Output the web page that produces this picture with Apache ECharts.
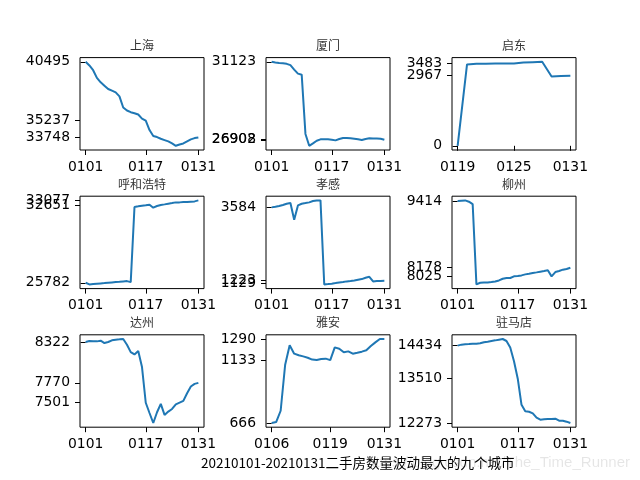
<!DOCTYPE html>
<html><head><meta charset="utf-8">
<script src="https://cdn.jsdelivr.net/npm/echarts@6/dist/echarts.min.js"></script>
<style>html,body{margin:0;padding:0;background:#fff}#c{width:640px;height:480px}</style>
</head><body><div id="c"></div>
<script>
const datesJan = ['0101','0102','0103','0104','0105','0106','0107','0108','0109','0110','0111','0112','0113','0114','0115','0116','0117','0118','0119','0120','0121','0122','0123','0124','0125','0126','0127','0128','0129','0130','0131'];
const datesQidong = ['0119','0120','0121','0122','0123','0124','0125','0126','0127','0128','0129','0130','0131'];
const datesYaan = ['0106','0107','0108','0109','0110','0111','0112','0113','0114','0115','0116','0117','0118','0119','0120','0121','0122','0123','0124','0125','0126','0127','0128','0129','0130','0131'];

const cities = ['上海','厦门','启东','呼和浩特','孝感','柳州','达州','雅安','驻马店'];

const shanghai = [40495,40165,39745,39056,38666,38366,38066,37916,37766,37406,36417,36147,35997,35907,35787,35427,35237,34408,33868,33778,33628,33508,33388,33208,32998,33118,33208,33388,33568,33688,33748];
const xiamen = [31123,31090,31060,31040,31013,30940,30702,30482,30427,27220,26578,26707,26853,26927,26927,26927,26908,26871,26945,27000,27000,26990,26963,26930,26890,26950,26982,26975,26970,26960,26902];
const qidong = [0,3441,3469,3469,3476,3478,3483,3525,3539,3553,2930,2950,2967];
const hohhot = [25782,25636,25665,25694,25723,25752,25782,25811,25840,25869,25899,25928,25840,32492,32550,32609,32651,32697,32433,32580,32668,32726,32785,32843,32902,32902,32931,32931,32960,32990,33077];
const xiaogan = [3584,3605,3627,3659,3702,3723,3187,3648,3702,3723,3745,3788,3809,3809,1105,1116,1129,1148,1169,1180,1202,1212,1233,1255,1276,1319,1351,1202,1212,1218,1223];
const liuzhou = [9414,9420,9426,9402,9358,7868,7899,7905,7905,7911,7923,7942,7973,7986,7986,8017,8025,8035,8054,8066,8079,8091,8104,8116,8129,8017,8097,8116,8141,8153,8178];
const dazhou = [8322,8336,8331,8331,8340,8308,8322,8345,8354,8358,8363,8286,8186,8155,8200,7983,7501,7362,7227,7372,7485,7336,7381,7417,7480,7503,7526,7630,7720,7756,7770];
const yaan = [666,673,757,1099,1243,1181,1169,1161,1151,1137,1134,1141,1144,1133,1228,1218,1191,1198,1181,1188,1196,1206,1238,1265,1290,1290];
const zhumadian = [14434,14462,14471,14480,14490,14490,14499,14527,14545,14564,14582,14601,14620,14564,14380,14000,13510,12780,12600,12588,12542,12421,12365,12375,12384,12384,12393,12338,12338,12310,12273];

// y tick labels: value at first, middle and last shown date
const yTicks = [
  [40495,35237,33748],
  [31123,26908,26902],
  [0,3483,2967],
  [25782,32651,33077],
  [3584,1129,1223],
  [9414,8025,8178],
  [8322,7501,7770],
  [666,1133,1290],
  [14434,13510,12273]
];
// x tick positions (indices into the date lists)
const xTickIdx = [[0,16,30],[0,16,30],[0,6,12],[0,16,30],[0,16,30],[0,16,30],[0,16,30],[0,13,25],[0,16,30]];
const xLabels = [datesJan,datesJan,datesQidong,datesJan,datesJan,datesJan,datesJan,datesYaan,datesJan];
const seriesVals = [shanghai,xiamen,qidong,hohhot,xiaogan,liuzhou,dazhou,yaan,zhumadian];

const title = '20210101-20210131二手房数量波动最大的九个城市';

const colLeft = [80, 266, 452];
const rowTop = [57.6, 196.2, 334.8];
const W = 124, H = 92.4;

const grids = [], xAxes = [], yAxes = [], series = [], graphics = [];
const labelFont = {color: '#000', fontSize: 13.9, fontFamily: 'DejaVu Sans'};
for (let k = 0; k < 9; k++) {
  const r = Math.floor(k / 3), c = k % 3;
  const vals = seriesVals[k], labels = xLabels[k];
  const n = vals.length;
  const vmin = Math.min(...vals), vmax = Math.max(...vals), rg = vmax - vmin;
  grids.push({left: colLeft[c], top: rowTop[r], width: W, height: H, show: true,
    borderColor: '#000', borderWidth: 1, backgroundColor: 'transparent',
    containLabel: false, outerBoundsMode: 'none'});
  xAxes.push({type: 'value', gridIndex: k, min: -0.05 * (n - 1), max: (n - 1) * 1.05,
    splitLine: {show: false}, axisLine: {show: false},
    axisTick: {show: true, length: 5, lineStyle: {color: '#000', width: 1}, customValues: xTickIdx[k]},
    axisLabel: Object.assign({show: true, customValues: xTickIdx[k], margin: 10, hideOverlap: false,
      formatter: v => labels[Math.round(v)]}, labelFont)});
  const ymin = vmin - 0.05 * rg, ymax = vmax + 0.05 * rg;
  // one y axis per tick so overlapping labels are all drawn (as in the reference)
  yTicks[k].forEach((t, j) => {
    yAxes.push({type: 'value', gridIndex: k, min: ymin, max: ymax, position: 'left', offset: 0,
      splitLine: {show: false}, axisLine: {show: false},
      axisTick: {show: true, length: 5, lineStyle: {color: '#000', width: 1}, customValues: [t]},
      axisLabel: Object.assign({show: true, customValues: [t], margin: 10, hideOverlap: false,
        formatter: v => String(t)}, labelFont)});
  });
  series.push({type: 'line', xAxisIndex: k, yAxisIndex: k * 3, data: vals.map((v, i) => [i, v]),
    showSymbol: false, symbol: 'none', lineStyle: {color: '#1f77b4', width: 2}, animation: false});
  graphics.push({type: 'text', x: colLeft[c] + W / 2, y: rowTop[r] - 12,
    style: {text: cities[k], fill: '#333', font: '12px "Noto Sans CJK SC"', textAlign: 'center', textVerticalAlign: 'middle'}});
}
graphics.push({type: 'text', x: 630, y: 463, z: 0,
  style: {text: 'https://blog.csdn.net/The_Time_Runner', fill: 'rgba(0,0,0,0.1)', font: '15px "Liberation Sans"', textAlign: 'right', textVerticalAlign: 'middle'}});
graphics.push({type: 'text', x: 201, y: 463,
  style: {text: title, fill: '#000', font: '13.5px "Noto Sans CJK SC"', textAlign: 'left', textVerticalAlign: 'middle'}});

const chart = echarts.init(document.getElementById('c'), null, {renderer: 'canvas'});
chart.setOption({animation: false, backgroundColor: '#fff', grid: grids, xAxis: xAxes, yAxis: yAxes, series: series, graphic: graphics});
</script></body></html>
